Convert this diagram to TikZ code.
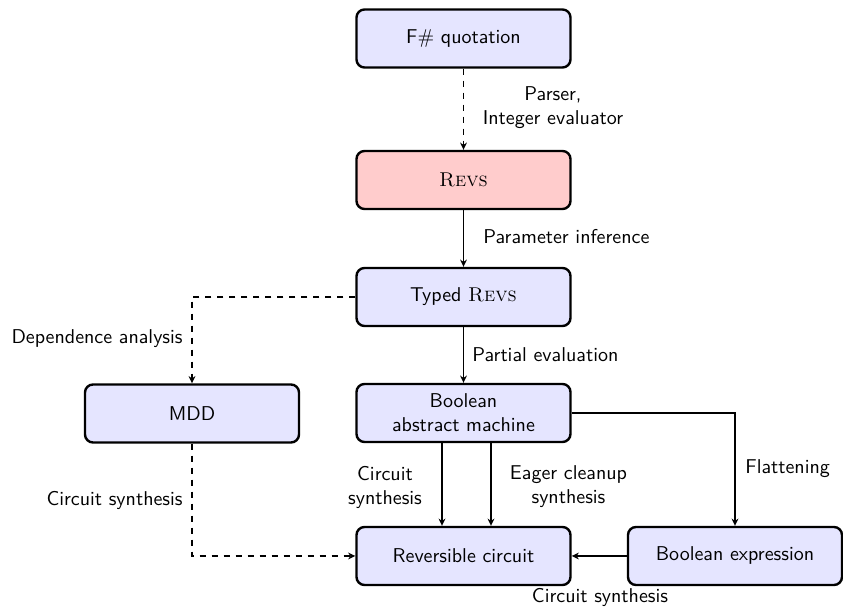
\documentclass[tikz,border=0pt]{standalone}
\usetikzlibrary{arrows.meta}
\begin{document}
\begin{tikzpicture}[x=1pt,y=1pt,
  box/.style={draw, very thick, rounded corners=4pt, fill=blue!10, minimum width=107pt, minimum height=29pt, align=center, font=\sffamily},
  lbl/.style={font=\sffamily, align=center, inner sep=0pt},
  arr/.style={-{Stealth[length=3.6pt,width=3.4pt]}, line width=0.65pt},
  darr/.style={arr, dashed}]
\useasboundingbox (0,0) rectangle (421.5,-304);
\node[box] (fq) at (231.75,-19.25) {F$\#$ quotation};
\node[box, fill=red!20] (revs) at (231.75,-90) {\rmfamily\textsc{Revs}};
\node[box] (typed) at (231.75,-148.5) {Typed {\rmfamily\textsc{Revs}}};
\node[box] (mdd) at (96,-206.75) {MDD};
\node[box] (bam) at (231.75,-206.5) {Boolean\\abstract machine};
\node[box] (rc) at (231.75,-278) {Reversible circuit};
\node[box] (be) at (367.5,-278) {Boolean expression};

\draw[darr] (fq) -- (revs);
\draw[arr] (revs) -- (typed);
\draw[arr] (typed) -- (bam);
\draw[darr] (typed.west) -| (mdd.north);
\draw[darr] (mdd.south) |- (rc.west);
\draw[arr] ([xshift=-10.75pt]bam.south) -- ([xshift=-10.75pt]rc.north);
\draw[arr] ([xshift=13.75pt]bam.south) -- ([xshift=13.75pt]rc.north);
\draw[arr] (bam.east) -| (be.north);
\draw[arr] (be.west) -- (rc.east);

\node[lbl] (l1) at (276.5,-53.75) {Parser,\\Integer evaluator};
\node[lbl, anchor=west] (l2) at (241.5,-118.5) {Parameter inference};
\node[lbl, anchor=west] (l3) at (236,-177.5) {Partial evaluation};
\node[lbl, anchor=east] (l4) at (91.5,-169.5) {Dependence analysis};
\node[lbl, anchor=east] (l5) at (91.5,-250) {Circuit synthesis};
\node[lbl] (l6) at (192.5,-243.5) {Circuit\\synthesis};
\node[lbl] (l7) at (284.25,-243.5) {Eager cleanup\\synthesis};
\node[lbl, anchor=west] (l8) at (372.5,-234.5) {Flattening};
\node[lbl] (l9) at (300,-298.5) {Circuit synthesis};
\end{tikzpicture}
\end{document}
